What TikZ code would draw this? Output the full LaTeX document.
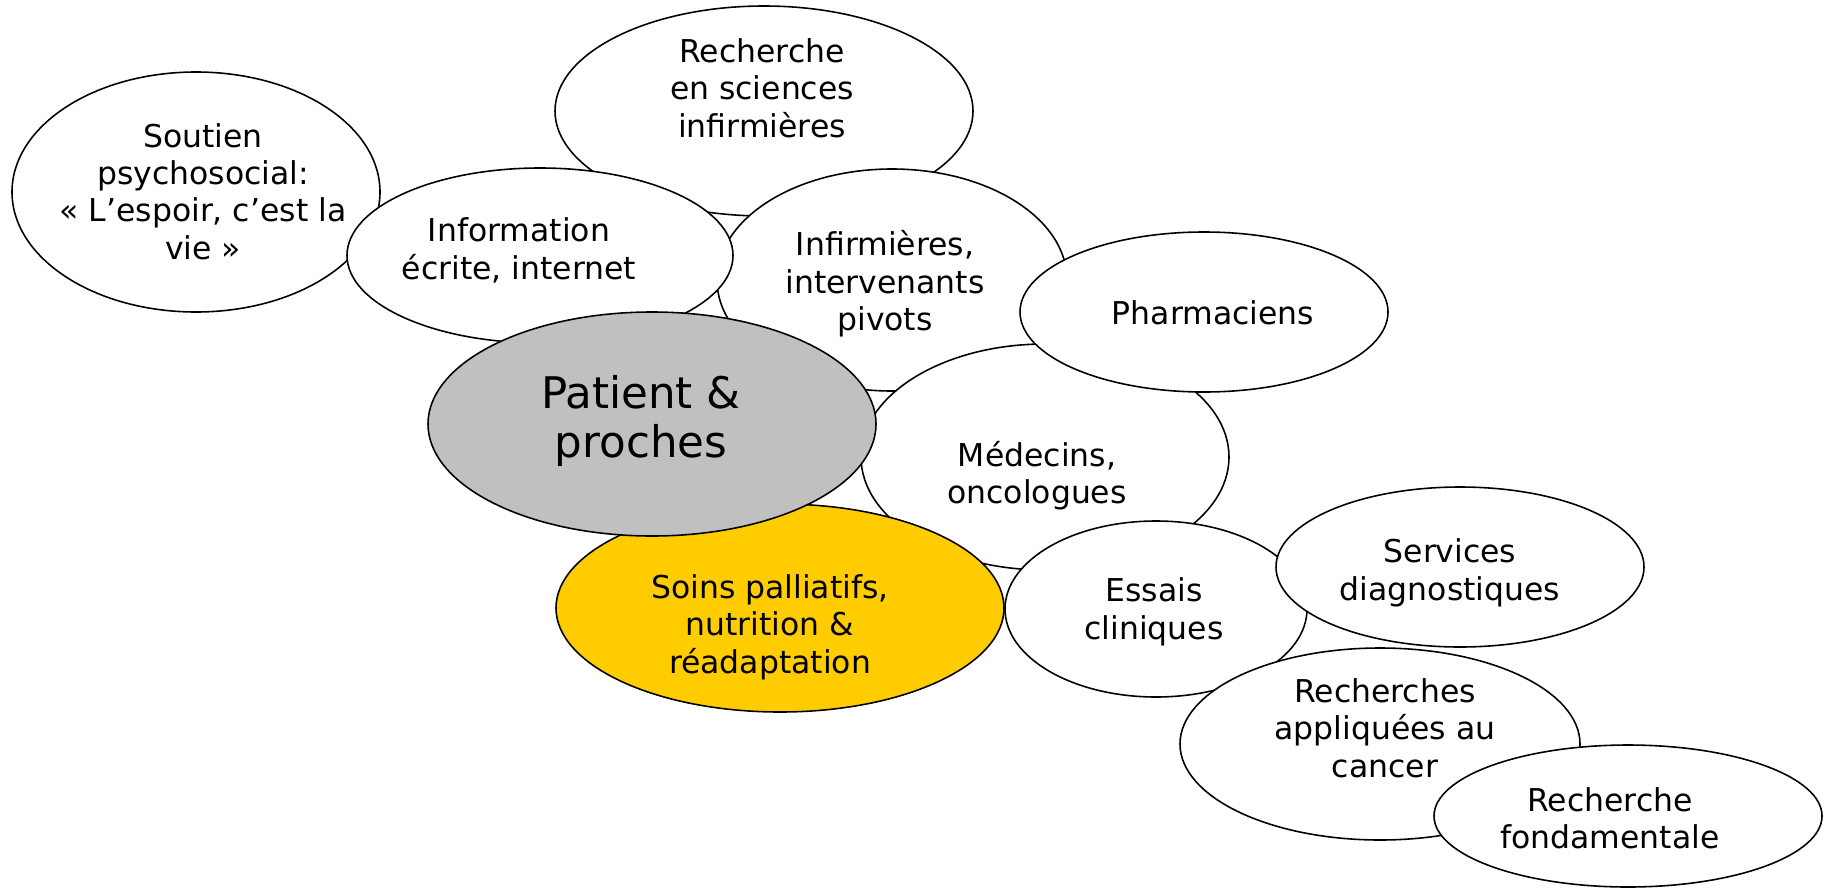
\documentclass[tikz,border=0pt]{standalone}
\usepackage{fontspec}
\setmainfont{DejaVu Sans}
\definecolor{gris}{HTML}{C0C0C0}
\definecolor{jaune}{HTML}{FFCC00}
\tikzset{
	bulle/.style={draw=black, line width=0.9pt, fill=white},
	texte/.style={align=center, inner sep=0pt, font=\fontsize{17.9}{21.3}\selectfont},
	grand/.style={align=center, inner sep=0pt, font=\fontsize{24.8}{27.9}\selectfont},
}
\begin{document}
\begin{tikzpicture}[x=0.02cm, y=-0.02cm]
		\useasboundingbox (0, 0) rectangle (1824, 889);
		\draw[bulle] (196, 192) ellipse (184 and 120);
		\node[texte] (soutien) at (203, 191.5) {Soutien\\psychosocial:\\« L’espoir, c’est la\\vie »};
		\draw[bulle] (764, 111) ellipse (209 and 105);
		\node[texte] (rechinf) at (762, 88) {Recherche\\en sciences\\infirmières};
		\draw[bulle] (892, 280) ellipse (175 and 111);
		\node[texte] (infirm) at (885, 284) {Infirmières,\\intervenants\\pivots};
		\draw[bulle] (540, 255.5) ellipse (193 and 87.5);
		\node[texte] (info) at (519, 250.5) {Information\\écrite, internet};
		\draw[bulle] (1045, 457) ellipse (184 and 113);
		\node[texte] (medecins) at (1037, 475.5) {Médecins,\\oncologues};
		\draw[bulle] (1204, 312) ellipse (184 and 80);
		\node[texte] (pharma) at (1213, 313) {Pharmaciens};
		\draw[bulle, fill=jaune] (780, 608) ellipse (224 and 104);
		\node[texte] (soins) at (770, 627) {Soins palliatifs,\\nutrition \&\\réadaptation};
		\draw[bulle, fill=gris] (652, 424) ellipse (224 and 112);
		\node[grand] (patient) at (641, 421) {Patient \&\\proches};
		\draw[bulle] (1156, 609) ellipse (151 and 88);
		\node[texte] (essais) at (1154, 612) {Essais\\cliniques};
		\draw[bulle] (1460, 567) ellipse (184 and 80);
		\node[texte] (services) at (1450, 572.7) {Services\\diagnostiques};
		\draw[bulle] (1380, 744) ellipse (200 and 96);
		\node[texte] (appliq) at (1385, 728) {Recherches\\appliquées au\\cancer};
		\draw[bulle] (1628, 816) ellipse (194 and 71);
		\node[texte] (fondam) at (1610, 818) {Recherche\\fondamentale};
	\end{tikzpicture}
\end{document}
